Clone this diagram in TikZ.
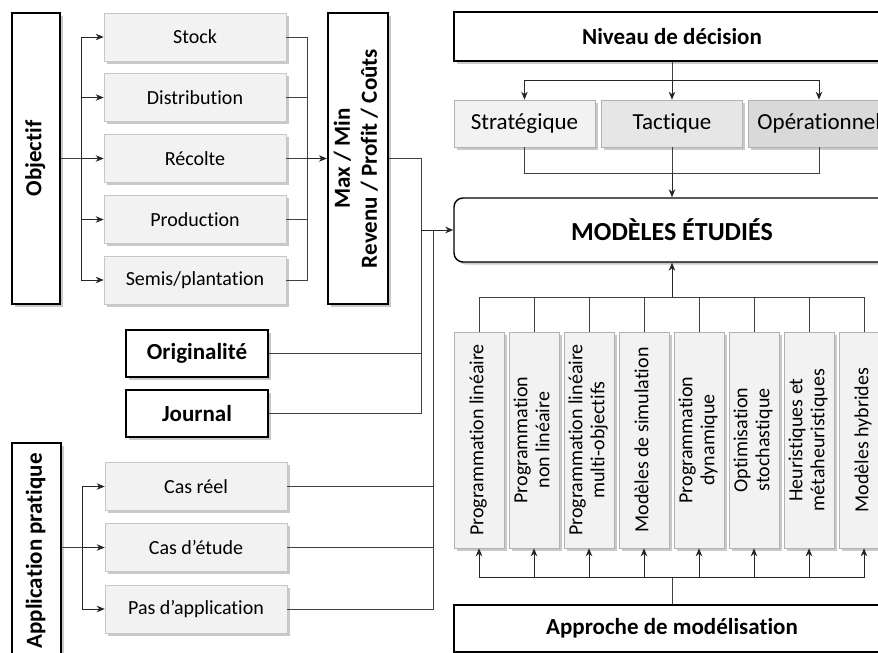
\documentclass[tikz,border=0pt]{standalone}
\usepackage{fontspec}
\setmainfont{Carlito}[Ligatures={NoCommon}, Contextuals={NoAlternate}, RawFeature={-clig}]
\usetikzlibrary{arrows.meta,shadows}

\definecolor{lightbox}{HTML}{F2F2F2}
\definecolor{midbox}{HTML}{E6E6E6}
\definecolor{darkbox}{HTML}{D9D9D9}
\definecolor{linkgray}{HTML}{404040}

\newcommand\vtxt[1]{\rotatebox{90}{\begin{tabular}{@{}c@{}}#1\end{tabular}}}

\tikzset{
    shade box/.style={drop shadow={shadow xshift=2.5pt, shadow yshift=-2.5pt, opacity=0.3, fill=black!70}},
    boldbox/.style={draw=black, line width=2.2pt, fill=white, shade box, inner sep=0pt,
        font=\fontsize{23}{27}\selectfont\bfseries},
    subbox/.style={draw=black!22, line width=0.6pt, fill=lightbox, shade box, inner sep=0pt,
        minimum width=182pt, minimum height=48pt, font=\fontsize{20}{22}\selectfont},
    levelbox/.style={draw=black!30, line width=0.6pt, shade box, inner sep=0pt,
        minimum width=141pt, minimum height=47pt, font=\fontsize{23}{26}\selectfont},
    vbox/.style={draw=black!30, line width=0.6pt, fill=lightbox, shade box, inner sep=0pt,
        minimum width=50pt, minimum height=216pt, font=\fontsize{20}{22}\selectfont},
    link/.style={draw=linkgray, line width=0.8pt},
    linkarrow/.style={link, draw=black!85, -{Stealth[length=8pt,width=6.5pt,inset=2.5pt]}},
}

\begin{document}
\begin{tikzpicture}[x=1pt, y=-1pt]
    \useasboundingbox (0,0) rectangle (878,653);
    \clip (0,0) rectangle (878,653);

    \node[boldbox, minimum width=48pt, minimum height=291pt] (obj) at (36,158.5) {\vtxt{Objectif}};
    \node[subbox] (stock) at (195,37) {Stock};
    \node[subbox] (distr) at (195,97.5) {Distribution};
    \node[subbox] (recolte) at (195,158.5) {Récolte};
    \node[subbox] (prod) at (195,219.5) {Production};
    \node[subbox] (semis) at (195,280) {Semis/plantation};
    \node[boldbox, minimum width=60pt, minimum height=291pt] (maxmin) at (358,158.5)
        {\vtxt{Max / Min\\Revenu / Profit / Coûts}};

    \node[boldbox, minimum width=142pt, minimum height=47pt] (orig) at (197,353.5) {Originalité};
    \node[boldbox, minimum width=142pt, minimum height=47pt] (journal) at (197,413.5) {Journal};

    \node[boldbox, minimum width=49pt, minimum height=216pt] (app) at (36.5,551) {\vtxt{Application pratique}};
    \node[subbox] (casreel) at (196,486.5) {Cas réel};
    \node[subbox] (casetude) at (196,547.5) {Cas d’étude};
    \node[subbox] (pasapp) at (196,609) {Pas d’application};

    \node[boldbox, minimum width=436pt, minimum height=49pt] (niveau) at (672,36.5) {Niveau de décision};
    \node[levelbox, fill=lightbox] (strat) at (524.5,123.5) {Stratégique};
    \node[levelbox, fill=midbox] (tact) at (672,123.5) {Tactique};
    \node[levelbox, fill=darkbox] (oper) at (819,123.5) {Opérationnel};

    \node[draw=black, line width=1.4pt, fill=white, rounded corners=9pt, shade box,
        minimum width=436pt, minimum height=64pt, font=\fontsize{26}{30}\selectfont\bfseries]
        (modeles) at (672,230) {MODÈLES ÉTUDIÉS};

    \foreach \i/\txt in {1/{Programmation linéaire}, 2/{Programmation\\non linéaire},
        3/{Programmation linéaire\\multi-objectifs}, 4/{Modèles de simulation},
        5/{Programmation\\dynamique}, 6/{Optimisation\\stochastique},
        7/{Heuristiques et\\métaheuristiques}, 8/{Modèles hybrides}}
        \node[vbox] (m\i) at ({424+55*\i},440) {\vtxt{\txt}};

    \node[boldbox, minimum width=436pt, minimum height=47pt] (approche) at (672,628.5) {Approche de modélisation};

    \coordinate (objj) at (81,158.5);
    \coordinate (colj) at (307,158.5);
    \coordinate (appj) at (82,547.5);
    \coordinate (midj) at (421,230);
    \coordinate (casj) at (433,230);
    \coordinate (topj) at (672,80);
    \coordinate (levj) at (672,173);
    \coordinate (upj) at (672,297);
    \coordinate (downj) at (672,577);

    \draw[link] (obj.east) -- (objj);
    \foreach \n in {stock,distr,recolte,prod,semis} {
        \draw[linkarrow] (objj) |- (\n.west);
        \draw[link] (\n.east) -| (colj);
    }
    \draw[linkarrow] (colj) -- (maxmin.west);

    \draw[link] (app.east |- casetude.west) -- (appj);
    \foreach \n in {casreel,casetude,pasapp} {
        \draw[linkarrow] (appj) |- (\n.west);
        \draw[link] (\n.east) -| (casj);
    }

    \draw[link] (maxmin.east) -| (midj);
    \draw[link] (orig.east) -| (midj);
    \draw[link] (journal.east) -| (midj);
    \draw[linkarrow] (midj) -- (modeles.west);

    \draw[link] (niveau.south) -- (topj);
    \foreach \n in {strat,tact,oper} {
        \draw[linkarrow] (topj) -| (\n.north);
        \draw[link] (\n.south) |- (levj);
    }
    \draw[linkarrow] (levj) -- (modeles.north);

    \draw[linkarrow] (upj) -- (modeles.south);
    \draw[link] (approche.north) -- (downj);
    \foreach \i in {1,...,8} {
        \draw[link] (m\i.north) |- (upj);
        \draw[linkarrow] (downj) -| (m\i.south);
    }
\end{tikzpicture}
\end{document}
